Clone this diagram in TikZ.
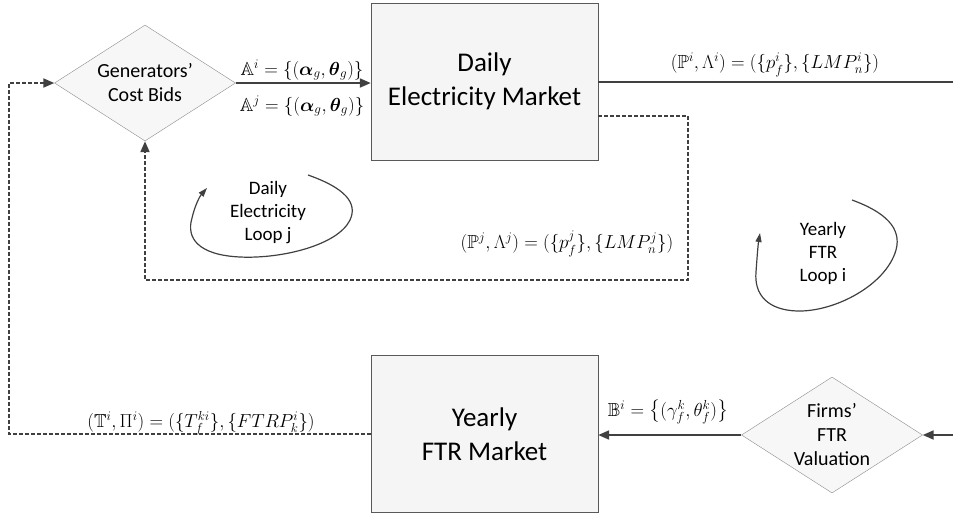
\documentclass[tikz,border=0pt]{standalone}
\usepackage{amsmath,amssymb}
\usepackage{fontspec}
\setmainfont{Carlito}
\usetikzlibrary{shapes.geometric,arrows.meta}
\begin{document}
\begin{tikzpicture}[x=1pt, y=-1pt,
    market/.style={draw=black!65, fill=gray!8, minimum width=227pt, minimum height=157pt,
      inner sep=0pt, align=center, font=\fontsize{27}{34}\selectfont},
    decision/.style={diamond, draw=black!45, fill=gray!6, minimum width=181pt,
      minimum height=116pt, inner sep=0pt},
    dtext/.style={align=center, font=\fontsize{20}{24}\selectfont},
    looptext/.style={align=center, font=\fontsize{19}{23}\selectfont},
    lbl/.style={font=\fontsize{17.28}{20}\selectfont, scale=1.09, transform shape},
    flow/.style={draw=black!75, line width=2pt, -{Triangle[length=11pt,width=9pt]}},
    feedback/.style={flow, dash pattern=on 4pt off 2pt},
    loopline/.style={draw=black!75, line width=1.2pt, -{Triangle[length=9pt,width=6pt]}}]
  \useasboundingbox (0,0) rectangle (953,515);
  % blocks, placed in pixel coordinates (y grows downwards)
  \node[decision] (gen) at (145,83) {};
  \node[dtext] (genlbl) at (gen) {Generators'\\Cost Bids};
  \node[market] (daily) at (484.5,81.5) {Daily\\Electricity Market};
  \node[market] (ftr) at (484.5,434) {Yearly\\FTR Market};
  \node[decision] (firms) at (832,435) {};
  \node[dtext] (firmslbl) at (firms) {Firms'\\FTR\\Valuation};
  \coordinate (rEdge) at (953,0);
  \coordinate (lEdge) at (9,0);
  \coordinate (jc1) at (688,116);
  \coordinate (jc2) at (688,280);
  % connectors
  \draw[flow] (gen.east) -- (gen.east -| daily.west);
  \draw[draw=black!75, line width=2pt] (daily.east) -- (daily.east -| rEdge);
  \draw[feedback] (daily.east |- jc1) -- (jc1) -- (jc2) -| (gen.south);
  \draw[flow] (firms.east -| rEdge) -- (firms.east);
  \draw[flow] (firms.west) -- (firms.west -| ftr.east);
  \draw[feedback] (ftr.west) -- (ftr.west -| lEdge) |- (gen.west);
  % labels
  \node[lbl] (ai) at (302,70) {$\mathbb{A}^i=\{(\boldsymbol{\alpha}_g,\boldsymbol{\theta}_g)\}$};
  \node[lbl] (aj) at (302,106) {$\mathbb{A}^j=\{(\boldsymbol{\alpha}_g,\boldsymbol{\theta}_g)\}$};
  \node[lbl] (pi) at (775,65) {$(\mathbb{P}^i,\Lambda^i)=(\{p_f^i\},\{LMP_n^i\})$};
  \node[lbl] (pj) at (567,244) {$(\mathbb{P}^j,\Lambda^j)=(\{p_f^j\},\{LMP_n^j\})$};
  \node[lbl] (ti) at (201,423) {$(\mathbb{T}^i,\Pi^i)=(\{T_f^{ki}\},\{FTRP_k^i\})$};
  \node[lbl] (bi) at (668,412) {$\mathbb{B}^i=\left\{(\gamma_f^k,\theta_f^k)\right\}$};
  % loops
  \node[looptext] (jloop) at (268,213) {Daily\\Electricity\\Loop j};
  \draw[loopline] (308,175) .. controls (345,188) and (358,203) .. (350,220)
    .. controls (338,245) and (282,259) .. (240,257)
    .. controls (198,255) and (186,238) .. (192,218)
    .. controls (195,205) and (200,196) .. (207,188);
  \node[looptext] (iloop) at (823,253) {Yearly\\FTR\\Loop i};
  \draw[loopline] (852,200) .. controls (885,212) and (902,228) .. (896,250)
    .. controls (886,285) and (835,312) .. (797,311)
    .. controls (768,310) and (754,295) .. (756,272)
    .. controls (757,258) and (758,245) .. (760,233);
\end{tikzpicture}
\end{document}
